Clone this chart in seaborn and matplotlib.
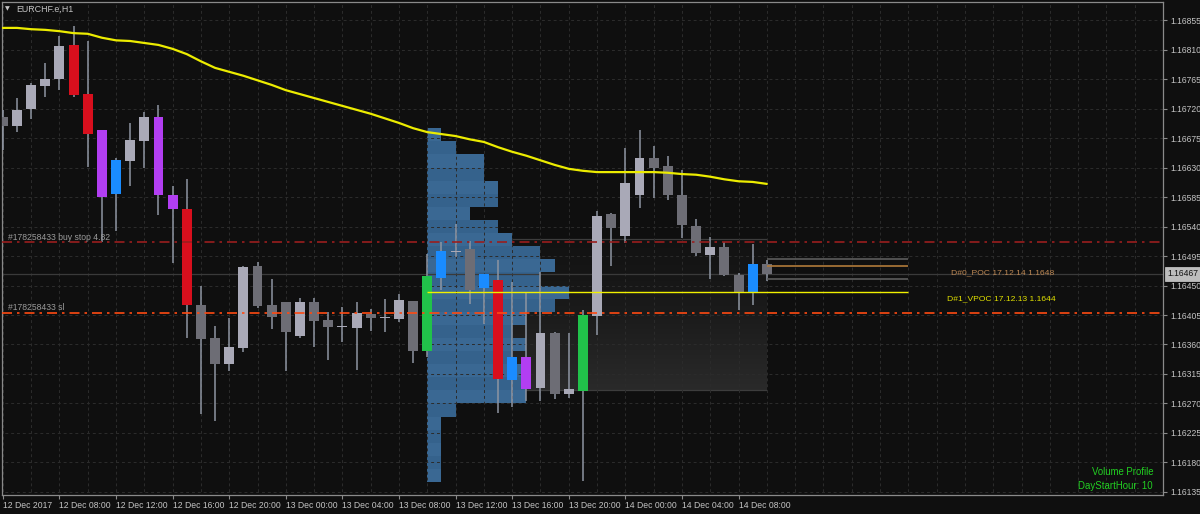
import numpy as np
import pandas as pd
import matplotlib
matplotlib.use("Agg")
import matplotlib.pyplot as plt
import seaborn as sns
from matplotlib.colors import LinearSegmentedColormap

# ---------------- data ----------------
symbol = "EURCHF.e,H1"
start_time = "2017-12-12 04:00"

opens = [1.16707, 1.16693, 1.16719, 1.16754, 1.16765, 1.16817, 1.16742, 1.16687, 1.16590, 1.16640,
         1.16670, 1.16707, 1.16588, 1.16567, 1.16420, 1.16370, 1.16330, 1.16355, 1.16480, 1.16420,
         1.16425, 1.16373, 1.16425, 1.16397, 1.16386, 1.16385, 1.16407, 1.16400, 1.16399, 1.16426,
         1.16350, 1.16461, 1.16501, 1.16506, 1.16446, 1.16458, 1.16306, 1.16341, 1.16294, 1.16378,
         1.16285, 1.16289, 1.16403, 1.16559, 1.16526, 1.16588, 1.16645, 1.16632, 1.16588, 1.16541,
         1.16497, 1.16509, 1.16466, 1.16440, 1.16483]
highs = [1.16718, 1.16736, 1.16759, 1.16789, 1.16831, 1.16846, 1.16823, 1.16687, 1.16645, 1.16698,
         1.16715, 1.16725, 1.16602, 1.16612, 1.16449, 1.16388, 1.16400, 1.16480, 1.16486, 1.16460,
         1.16425, 1.16431, 1.16431, 1.16410, 1.16417, 1.16425, 1.16414, 1.16429, 1.16437, 1.16426,
         1.16498, 1.16516, 1.16544, 1.16518, 1.16467, 1.16489, 1.16455, 1.16439, 1.16471, 1.16379,
         1.16378, 1.16413, 1.16564, 1.16561, 1.16660, 1.16687, 1.16663, 1.16648, 1.16626, 1.16551,
         1.16524, 1.16516, 1.16469, 1.16513, 1.16489]
lows = [1.16657, 1.16684, 1.16704, 1.16738, 1.16748, 1.16738, 1.16631, 1.16516, 1.16533, 1.16602,
        1.16629, 1.16558, 1.16484, 1.16370, 1.16254, 1.16243, 1.16320, 1.16349, 1.16416, 1.16384,
        1.16320, 1.16370, 1.16356, 1.16336, 1.16364, 1.16321, 1.16381, 1.16379, 1.16394, 1.16332,
        1.16341, 1.16443, 1.16493, 1.16422, 1.16391, 1.16256, 1.16265, 1.16274, 1.16274, 1.16277,
        1.16278, 1.16152, 1.16375, 1.16480, 1.16515, 1.16568, 1.16583, 1.16580, 1.16522, 1.16495,
        1.16460, 1.16464, 1.16413, 1.16420, 1.16457]
closes = [1.16693, 1.16718, 1.16756, 1.16765, 1.16815, 1.16741, 1.16681, 1.16585, 1.16641, 1.16672,
          1.16707, 1.16588, 1.16567, 1.16420, 1.16368, 1.16330, 1.16356, 1.16478, 1.16419, 1.16402,
          1.16379, 1.16425, 1.16396, 1.16387, 1.16387, 1.16408, 1.16400, 1.16400, 1.16428, 1.16350,
          1.16464, 1.16503, 1.16501, 1.16443, 1.16467, 1.16307, 1.16341, 1.16292, 1.16378, 1.16285,
          1.16292, 1.16405, 1.16556, 1.16538, 1.16606, 1.16645, 1.16629, 1.16588, 1.16542, 1.16500,
          1.16509, 1.16466, 1.16440, 1.16483, 1.16467]
candle_kind = ["bear", "bull", "bull", "bull", "bull", "red", "red", "purple", "blue", "bull",
               "bull", "purple", "purple", "red", "bear", "bear", "bull", "bull", "bear", "bear",
               "bear", "bull", "bear", "bear", "bull", "bull", "bear", "bull", "bull", "bear",
               "green", "blue", "bull", "bear", "blue", "red", "blue", "purple", "bull", "bear",
               "bull", "green", "bull", "bear", "bull", "bull", "bear", "bear", "bear", "bear",
               "bull", "bear", "bear", "blue", "bear"]
ma_values = [1.16843, 1.16843, 1.16841, 1.16840, 1.16838, 1.16835, 1.16834, 1.16828, 1.16824, 1.16823,
             1.16820, 1.16817, 1.16811, 1.16803, 1.16792, 1.16782, 1.16776, 1.16770, 1.16763, 1.16756,
             1.16748, 1.16742, 1.16736, 1.16730, 1.16724, 1.16718, 1.16712, 1.16705, 1.16698, 1.16690,
             1.16684, 1.16681, 1.16678, 1.16673, 1.16669, 1.16661, 1.16654, 1.16648, 1.16641, 1.16634,
             1.16628, 1.16625, 1.16623, 1.16623, 1.16623, 1.16623, 1.16623, 1.16622, 1.16620, 1.16619,
             1.16616, 1.16612, 1.16609, 1.16608, 1.16605]

profile_levels = [1.1668, 1.1666, 1.1664, 1.1662, 1.1660, 1.1658, 1.1656, 1.1654, 1.1652, 1.1650,
                  1.1648, 1.1646, 1.1644, 1.1642, 1.1640, 1.1638, 1.1636, 1.1634, 1.1632, 1.1630,
                  1.1628, 1.1626, 1.1624, 1.1622, 1.1620, 1.1618, 1.1616]
profile_volume = [1, 2, 4, 4, 5, 5, 3, 5, 6, 8, 9, 8, 10, 9, 7, 6, 7, 6, 7, 7, 7, 2, 1, 1, 1, 1, 1]
profile_row = 0.0002
profile_start_bar = 30
day_end_bar = 54
level_end_bar = 64

value_area_top = 1.16521
value_area_bottom = 1.16291
vpoc_price = 1.1644
poc0_price = 1.1648
poc0_upper = 1.16490
poc0_lower = 1.16460
buy_stop_price = 1.16516
sl_price = 1.16408
bid_price = 1.16467

y_ticks = [1.16135, 1.16180, 1.16225, 1.16270, 1.16315, 1.16360, 1.16405, 1.16450, 1.16495,
           1.16540, 1.16585, 1.16630, 1.16675, 1.16720, 1.16765, 1.16810, 1.16855]
x_tick_bars = [0, 4, 8, 12, 16, 20, 24, 28, 32, 36, 40, 44, 48, 52]
x_tick_labels = ["12 Dec 2017", "12 Dec 08:00", "12 Dec 12:00", "12 Dec 16:00", "12 Dec 20:00",
                 "13 Dec 00:00", "13 Dec 04:00", "13 Dec 08:00", "13 Dec 12:00", "13 Dec 16:00",
                 "13 Dec 20:00", "14 Dec 00:00", "14 Dec 04:00", "14 Dec 08:00"]

# ---------------- style ----------------
BG = "#0f0f0f"
sns.set_theme(style="dark")
plt.rcParams["font.family"] = ["Liberation Sans", "DejaVu Sans"]
plt.rcParams["axes.facecolor"] = BG
plt.rcParams["figure.facecolor"] = BG

kind_colors = {"bull": "#a9a9b7", "bear": "#6d6d75", "red": "#d80f1d",
               "purple": "#b23ef2", "blue": "#1a8cff", "green": "#21c24a"}
wick_color = "#8e95a2"
grid_color = "#2c2c2c"
frame_color = "#8a8a8a"
text_color = "#c4c4c4"

n = len(opens)
df = pd.DataFrame({
    "bar": np.arange(n),
    "time": pd.date_range(start_time, periods=n, freq="h"),
    "open": opens, "high": highs, "low": lows, "close": closes,
    "kind": candle_kind, "ma": ma_values,
})

W, H = 1200, 514
fig = plt.figure(figsize=(W / 100, H / 100), dpi=100)
ax = fig.add_axes([2 / W, 19 / H, 1161 / W, 493 / H])
ax.set_facecolor(BG)

# value-area gradient box (background object)
grad = np.linspace(0, 1, 200).reshape(-1, 1)
cmap = LinearSegmentedColormap.from_list("va", ["#2a2a2a", "#1b1b1b", "#121212"])
ax.imshow(grad, cmap=cmap, origin="lower", aspect="auto", interpolation="bilinear",
          extent=[profile_start_bar, day_end_bar, value_area_bottom, value_area_top], zorder=0.5)
ax.hlines([value_area_top, value_area_bottom], profile_start_bar, day_end_bar,
          color="#3d3d3d", lw=0.9, zorder=0.6)

# volume profile histogram
prof_colors = ["#3a6893" if j % 2 == 0 else "#35628c" for j in range(len(profile_levels))]
ax.barh(profile_levels, profile_volume, height=profile_row, left=profile_start_bar,
        color=prof_colors, linewidth=0, zorder=0.8)

# grid (drawn over background objects)
ax.hlines(y_ticks, -1, 90, color=grid_color, lw=0.7, linestyles=(0, (3, 3)), zorder=1)
ax.vlines(np.arange(0, 84, 2), 1.160, 1.170, color=grid_color, lw=0.7,
          linestyles=(0, (3, 3)), zorder=1)

# bid line
ax.axhline(bid_price, color="#3a3a3a", lw=0.9, zorder=1.5)

# candles
ax.vlines(df["bar"], df["low"], df["high"], color=wick_color, lw=1.1, zorder=3)
body_low = np.minimum(df["open"], df["close"])
body_h = np.maximum(np.abs(df["close"] - df["open"]), 0.000018)
ax.bar(df["bar"], body_h, bottom=body_low, width=0.7,
       color=[kind_colors[k] for k in df["kind"]], linewidth=0, zorder=4)

# moving average
sns.lineplot(data=df, x="bar", y="ma", ax=ax, color="#ecec00", lw=1.6, zorder=6)

# order lines
ax.axhline(buy_stop_price, color="#9a1e1e", lw=1.2, ls=(0, (6, 3, 1.5, 3)), zorder=5)
ax.axhline(sl_price, color="#ff4a12", lw=1.2, ls=(0, (6, 3, 1.5, 3)), zorder=5)

# POC levels
ax.hlines(vpoc_price, profile_start_bar, level_end_bar, color="#f0f000", lw=1.0, zorder=5)
ax.hlines([poc0_upper, poc0_lower], day_end_bar, level_end_bar, color="#5c5c5c", lw=1.2, zorder=5)
ax.hlines(poc0_price, day_end_bar, level_end_bar, color="#b07a3a", lw=1.2, zorder=5)

# axes limits / ticks
ax.set_xlim(-0.06, 82.0)
ax.set_ylim(1.161304, 1.168825)
ax.set_xlabel("")
ax.set_ylabel("")
ax.grid(False)
ax.yaxis.tick_right()
ax.set_yticks(y_ticks)
ax.set_yticklabels([f"{v:.5f}" for v in y_ticks])
ax.set_xticks(x_tick_bars)
ax.set_xticklabels(x_tick_labels, ha="left")
ax.tick_params(axis="y", right=True, left=False, length=3, width=0.8, color=frame_color,
               pad=2, labelsize=6.2, labelcolor=text_color)
ax.tick_params(axis="x", bottom=True, length=3, width=0.8, color=frame_color,
               pad=1.5, labelsize=6.2, labelcolor=text_color)
for s in ax.spines.values():
    s.set_color(frame_color)
    s.set_linewidth(0.9)
    s.set_visible(True)


def px(x):
    return x / W


def py(y):
    return 1 - y / H


# texts
fig.text(px(5), py(9), "\u25bc", fontsize=4.5, color=text_color, va="center", ha="left",
         family=["DejaVu Sans"])
fig.text(px(16), py(9), symbol, fontsize=6.4, color=text_color, va="center", ha="left")
fig.text(px(8), py(237), "#178258433 buy stop 4.82", fontsize=6.2, color="#9a9a9a", va="center")
fig.text(px(8), py(308), "#178258433 sl", fontsize=6.2, color="#9a9a9a", va="center")
fig.text(px(951), py(273), "D#0_POC 17.12.14 1.1648", fontsize=6.1, color="#c08a55", va="center")
fig.text(px(947), py(299), "D#1_VPOC 17.12.13 1.1644", fontsize=6.1, color="#e2e200", va="center")
fig.text(px(1153), py(472), "Volume Profile", fontsize=6.9, color="#22d022", va="center", ha="right")
fig.text(px(1153), py(486), "DayStartHour: 10", fontsize=6.9, color="#22d022", va="center", ha="right")
fig.text(px(1167), py(274), f"{bid_price:.5f}", fontsize=6.2, color="#111111", va="center", ha="left",
         bbox=dict(boxstyle="square,pad=0.25", fc="#bdbdbd", ec="#d0d0d0", lw=0.5))

fig.savefig("out.png", dpi=100, facecolor=BG)
